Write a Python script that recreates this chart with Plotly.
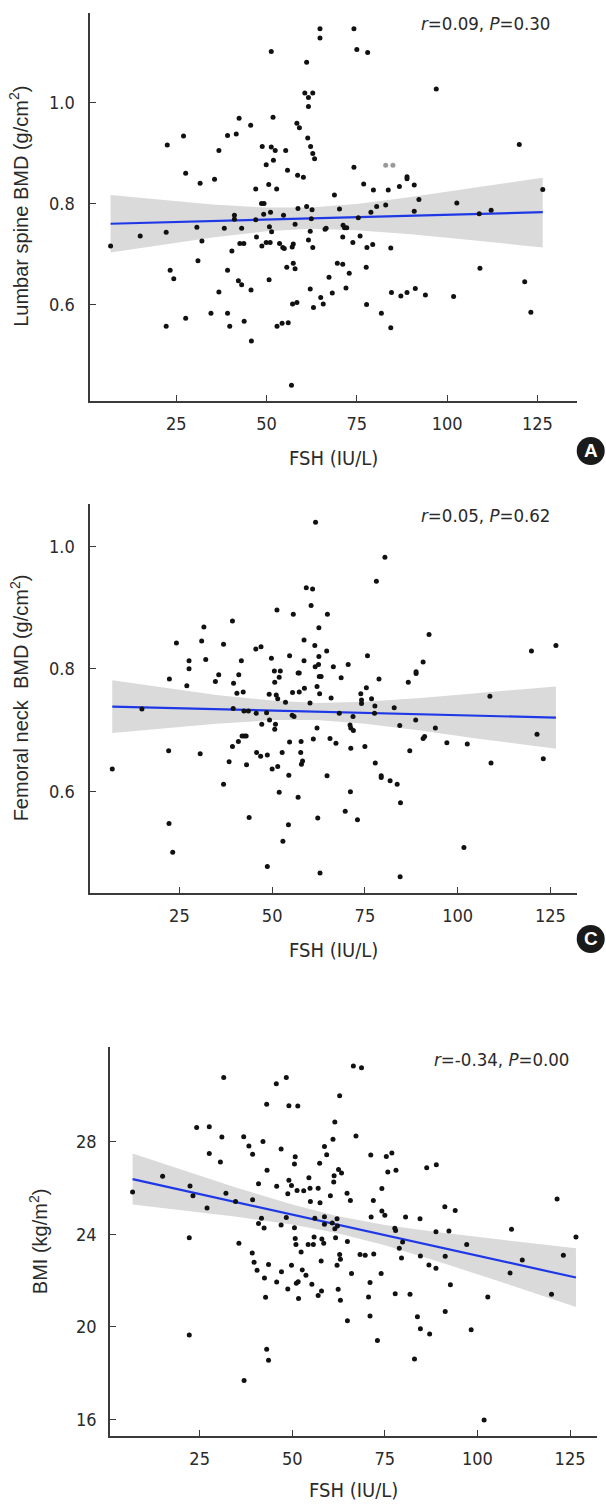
import plotly.graph_objects as go

# ---------------- data ----------------
# Panel A: Lumbar spine BMD vs FSH
fsh_a = [6.8, 15.0, 22.2, 22.5, 22.2, 23.3, 24.3, 27.0, 27.6, 27.6, 30.7, 31.0, 31.6, 32.1, 34.6, 35.6, 36.8, 36.8,
         38.3, 39.2, 39.2, 39.2, 39.8, 40.4, 41.1, 41.1, 41.6, 42.4, 42.2, 43.1, 43.1, 42.6, 43.7, 43.8, 45.6, 45.7,
         45.8, 47.0, 47.0, 47.2, 48.8, 48.7, 48.6, 49.3, 49.2, 49.9, 49.9, 50.6, 51.1, 50.8, 51.4, 51.0, 50.7, 51.3,
         51.8, 51.3, 52.4, 51.9, 52.8, 52.9, 53.6, 54.5, 54.9, 54.7, 54.3, 55.3, 55.8, 55.6, 56.0, 57.1, 57.4, 57.9,
         57.4, 57.9, 57.2, 58.4, 56.9, 58.4, 59.1, 58.6, 58.7, 60.2, 60.6, 61.6, 62.8, 61.6, 61.1, 61.4, 62.2, 62.8,
         63.3, 61.1, 62.6, 62.4, 62.1, 61.6, 62.8, 62.1, 63.0, 64.8, 64.8, 65.0, 65.7, 66.2, 66.5, 67.3, 68.2, 68.8,
         69.6, 70.2,
         74.2, 75.0, 78.0, 97.0, 120.0, 74.2, 76.9, 79.6, 83.7, 86.8, 88.9, 88.9, 90.9, 92.2, 75.4, 78.9, 80.5, 83.0,
         90.9, 102.7, 108.9, 112.2, 126.5, 71.2, 71.6, 72.2, 71.1, 73.9, 75.9, 77.8, 79.4, 84.4, 71.1, 72.9, 77.6,
         109.1, 72.0, 77.7, 81.8, 84.6, 87.2, 88.9, 91.2, 94.0, 101.8, 121.5, 123.2, 84.4]
bmd_ls = [0.715, 0.735, 0.742, 0.915, 0.556, 0.667, 0.650, 0.933, 0.859, 0.572, 0.752, 0.686, 0.839, 0.725, 0.582,
          0.847, 0.904, 0.624, 0.750, 0.934, 0.667, 0.582, 0.556, 0.705, 0.776, 0.768, 0.937, 0.968, 0.646, 0.638,
          0.750, 0.720, 0.720, 0.566, 0.954, 0.628, 0.527, 0.828, 0.767, 0.733, 0.912, 0.715, 0.799, 0.799, 0.778,
          0.876, 0.722, 0.837, 0.782, 0.753, 0.743, 0.722, 0.648, 1.100, 0.970, 0.911, 0.904, 0.885, 0.828, 0.556,
          0.720, 0.712, 0.710, 0.776, 0.562, 0.904, 0.865, 0.673, 0.563, 0.713, 0.719, 0.758, 0.681, 0.670, 0.600,
          0.603, 0.439, 0.958, 0.949, 0.855, 0.789, 0.851, 1.018, 1.009, 1.018, 0.991, 1.079, 0.929, 0.912, 0.898,
          0.888, 0.793, 0.787, 0.769, 0.744, 0.727, 0.712, 0.630, 0.593, 1.145, 1.127, 0.613, 0.600, 0.748, 0.750,
          0.653, 0.622, 0.816, 0.681, 0.788,
          1.145, 1.104, 1.098, 1.026, 0.916, 0.871, 0.838, 0.826, 0.826, 0.833, 0.852, 0.848, 0.836, 0.807, 0.771,
          0.782, 0.793, 0.796, 0.784, 0.800, 0.779, 0.786, 0.827, 0.756, 0.751, 0.751, 0.733, 0.722, 0.735, 0.712,
          0.718, 0.711, 0.679, 0.661, 0.673, 0.671, 0.632, 0.599, 0.582, 0.623, 0.616, 0.623, 0.631, 0.618, 0.615,
          0.644, 0.584, 0.553]
fsh_a_gray = [83.0, 85.0]
bmd_ls_gray = [0.875, 0.875]
fit_x_a = [6.8, 126.5]
fit_y_a = [0.759, 0.782]
band_x_a = [6.8, 20, 35, 50, 62, 75, 90, 105, 126.5]
band_hi_a = [0.816, 0.807, 0.797, 0.791, 0.791, 0.798, 0.812, 0.828, 0.850]
band_lo_a = [0.702, 0.716, 0.732, 0.744, 0.749, 0.746, 0.738, 0.728, 0.712]

# Panel C: Femoral neck BMD vs FSH
fsh_c = [6.9, 14.9, 22.3, 22.1, 22.2, 23.2, 24.2, 27.0, 27.6, 27.6, 30.6, 31.0, 31.6, 32.1, 34.7, 35.6, 36.9, 36.9,
         38.4, 39.3, 39.3, 39.6, 40.5, 41.0, 39.5, 40.9, 41.9, 42.5, 43.0, 41.7, 42.2, 42.4, 43.6, 43.1, 43.8, 45.6,
         47.0, 45.7, 45.8, 46.9, 47.2, 48.5, 48.7, 48.7, 49.2, 49.3, 49.8, 50.0, 50.6, 50.7, 51.1, 50.9, 50.7, 51.3,
         51.5, 51.9, 51.9, 52.2, 51.5, 52.7, 52.9, 53.6, 54.4, 54.5, 54.7, 54.7, 55.4, 55.9, 55.5, 55.7, 57.0, 57.3,
         57.3, 57.0, 57.8, 57.7, 57.9, 58.2, 58.6, 58.7, 58.6, 59.2, 60.9, 60.5, 60.2, 61.1, 61.5, 61.6, 62.5, 62.6,
         62.6, 62.7, 63.2, 62.1, 62.8, 62.1, 62.3, 62.9, 64.9, 64.7, 64.8, 65.6, 65.9, 66.5, 67.2, 61.7,
         80.4, 78.1, 92.3, 75.7, 70.5, 68.6, 78.8, 75.4, 73.9, 74.1, 74.1, 76.8, 77.7, 77.6, 68.1, 71.8, 71.0, 71.2,
         71.9, 82.9, 84.4, 88.7, 94.0, 86.7, 88.8, 88.8, 90.7, 108.7, 119.9, 126.5, 121.4, 123.1, 109.0, 102.6, 97.1,
         90.7, 91.1, 87.1, 75.0, 71.2, 77.8, 79.4, 79.4, 81.8, 83.7, 84.6, 71.1, 69.7, 73.0, 101.7, 84.5]
bmd_fn = [0.636, 0.734, 0.783, 0.666, 0.547, 0.500, 0.842, 0.772, 0.813, 0.800, 0.661, 0.845, 0.868, 0.815, 0.779,
          0.790, 0.840, 0.611, 0.648, 0.878, 0.673, 0.776, 0.760, 0.790, 0.735, 0.681, 0.690, 0.690, 0.690, 0.813,
          0.762, 0.731, 0.731, 0.643, 0.557, 0.832, 0.836, 0.727, 0.663, 0.657, 0.709, 0.728, 0.659, 0.477, 0.758,
          0.716, 0.817, 0.636, 0.796, 0.778, 0.757, 0.709, 0.701, 0.896, 0.640, 0.598, 0.786, 0.796, 0.751, 0.663,
          0.518, 0.745, 0.545, 0.626, 0.821, 0.680, 0.724, 0.722, 0.761, 0.889, 0.793, 0.793, 0.762, 0.590, 0.681,
          0.663, 0.644, 0.649, 0.813, 0.768, 0.847, 0.932, 0.930, 0.903, 0.744, 0.685, 0.838, 0.803, 0.807, 0.867,
          0.820, 0.787, 0.787, 0.771, 0.759, 0.703, 0.556, 0.466, 0.889, 0.829, 0.625, 0.686, 0.752, 0.803, 0.678,
          1.039,
          0.982, 0.943, 0.856, 0.821, 0.807, 0.785, 0.783, 0.769, 0.759, 0.749, 0.743, 0.751, 0.739, 0.727, 0.727,
          0.722, 0.708, 0.703, 0.699, 0.736, 0.707, 0.716, 0.703, 0.778, 0.795, 0.792, 0.811, 0.755, 0.829, 0.838,
          0.693, 0.653, 0.646, 0.677, 0.679, 0.686, 0.689, 0.666, 0.673, 0.670, 0.646, 0.625, 0.622, 0.617, 0.611,
          0.581, 0.599, 0.567, 0.553, 0.508, 0.460]
fit_x_c = [6.9, 126.5]
fit_y_c = [0.738, 0.720]
band_x_c = [6.9, 20, 35, 50, 62, 75, 90, 105, 126.5]
band_hi_c = [0.781, 0.770, 0.757, 0.748, 0.744, 0.746, 0.752, 0.760, 0.771]
band_lo_c = [0.695, 0.702, 0.710, 0.716, 0.716, 0.710, 0.699, 0.686, 0.669]

# Panel (bottom): BMI vs FSH
fsh_b = [6.9, 15.0, 22.4, 22.2, 22.2, 23.2, 24.2, 27.0, 27.6, 27.6, 30.6, 31.0, 31.5, 32.1, 34.7, 35.6, 36.9, 37.0,
         38.3, 39.3, 39.3, 39.2, 39.7, 40.5, 40.9, 40.9, 41.7, 42.4, 42.1, 42.5, 42.8, 43.1, 43.2, 43.1, 43.6, 43.6,
         45.7, 45.8, 45.8, 47.0, 47.0, 47.1, 48.4, 48.4, 48.8, 48.8, 49.1, 49.1, 49.8, 49.8, 50.6, 50.8, 50.6, 50.8,
         51.0, 51.1, 51.6, 51.7, 51.3, 51.5, 52.4, 52.7, 53.1, 53.7, 54.3, 54.5, 54.8, 54.9, 55.3, 55.7, 55.9, 56.1,
         57.0, 57.4, 57.5, 57.0, 57.9, 57.8, 58.0, 58.5, 58.7, 59.3, 58.7, 58.7, 60.3, 61.0, 61.5, 61.3, 61.2, 60.8,
         61.5, 62.1, 61.7, 62.2, 62.1, 62.4, 62.5, 63.3, 62.8, 62.8, 63.0, 63.0, 64.9, 64.8, 65.7, 64.9, 66.0, 66.5,
         67.2,
         68.7, 71.2, 75.4, 76.9, 75.8, 78.0, 86.3, 88.9, 74.2, 71.9, 74.2, 75.0, 71.3, 80.6, 84.5, 91.2, 94.0, 77.7,
         77.9, 88.8, 92.3, 109.2, 121.5, 126.6, 97.1, 79.8, 78.9, 79.5, 68.3, 69.7, 72.0, 84.6, 91.3, 112.1, 123.2,
         86.9, 88.8, 74.0, 108.8, 71.0, 92.7, 70.6, 77.8, 81.8, 102.8, 120.0, 71.0, 91.3, 83.8, 84.6, 87.1, 98.3,
         73.0, 83.0, 101.8]
bmi = [25.81, 26.49, 26.07, 23.84, 19.64, 25.65, 28.60, 25.12, 28.63, 27.47, 27.11, 28.19, 30.76, 25.76, 25.40,
       23.60, 28.20, 17.68, 27.80, 27.44, 25.48, 23.18, 22.78, 22.43, 26.17, 24.45, 24.68, 24.26, 27.99, 22.10, 21.27,
       29.60, 26.75, 19.02, 22.68, 18.55, 30.49, 26.06, 21.93, 27.67, 24.39, 22.37, 30.76, 24.71, 25.74, 21.63, 29.54,
       26.32, 26.09, 22.65, 27.02, 27.34, 24.27, 23.81, 23.55, 21.87, 21.94, 21.22, 25.88, 29.53, 23.22, 22.45, 25.87,
       22.22, 23.55, 26.43, 25.97, 25.40, 21.83, 23.55, 23.87, 24.68, 25.97, 27.05, 25.35, 21.34, 21.54, 22.83, 23.78,
       23.60, 27.78, 27.42, 24.75, 24.42, 25.65, 28.09, 28.83, 26.52, 26.24, 24.47, 24.23, 24.66, 23.84, 24.35, 22.65,
       21.61, 26.78, 26.63, 29.97, 23.11, 22.91, 21.14, 20.26, 25.76, 25.45, 23.68, 22.29, 31.25, 28.23,
       31.18, 27.41, 27.35, 27.50, 26.68, 26.75, 26.86, 26.99, 25.96, 25.45, 24.99, 24.81, 24.73, 24.73, 24.66, 25.18,
       25.01, 24.25, 24.15, 24.10, 24.13, 24.20, 25.51, 23.87, 23.55, 23.65, 23.38, 22.96, 23.12, 23.08, 23.14, 23.05,
       23.04, 22.88, 23.08, 22.66, 22.52, 22.30, 22.32, 21.91, 21.81, 21.28, 21.42, 21.40, 21.28, 21.40, 20.46, 20.66,
       20.43, 19.91, 19.68, 19.87, 19.40, 18.60, 15.97]
fit_x_b = [6.9, 126.6]
fit_y_b = [26.37, 22.12]
band_x_b = [6.9, 20, 35, 50, 62, 75, 90, 105, 126.6]
band_hi_b = [27.47, 26.78, 26.00, 25.27, 24.78, 24.39, 24.06, 23.78, 23.39]
band_lo_b = [25.27, 25.03, 24.74, 24.41, 24.04, 23.51, 22.78, 22.00, 20.85]

x_ticks = [25, 50, 75, 100, 125]
y_ticks_a = [0.6, 0.8, 1.0]
y_ticks_c = [0.6, 0.8, 1.0]
y_ticks_b = [16, 20, 24, 28]
stats = ["<i>r</i>=0.09, <i>P</i>=0.30", "<i>r</i>=0.05, <i>P</i>=0.62", "<i>r</i>=-0.34, <i>P</i>=0.00"]
ytitles = ["Lumbar spine BMD (g/cm<sup>2</sup>)", "Femoral neck\u00a0 BMD (g/cm<sup>2</sup>)", "BMI (kg/m<sup>2</sup>)"]
xtitle = "FSH (IU/L)"
badges = ["A", "C"]

# ---------------- layout geometry (pixels) ----------------
W, H = 606, 1509
NARROW = "DejaVu Sans Condensed, Liberation Sans Narrow, sans-serif"
REG = "Liberation Sans, Arial, sans-serif"
AX = "#3a3a3a"
TXT = "#2a2a2a"
LINE = "#1f38e6"
BAND = "#dadada"


def fx(px):
    return px / W


def fy(py):
    return 1 - py / H


panels = [
    dict(x=fsh_a, y=bmd_ls, fx_=fit_x_a, fy_=fit_y_a, bx=band_x_a, bh=band_hi_a, bl=band_lo_a,
         xdom=(90, 576.7), ydom=(12.7, 401), xr=[1.1, 135.9], yr=[0.408, 1.177], yt=y_ticks_a,
         yfmt="{:.1f}", ylab_x=77, ytitle_x=19, xtitle_y=458, stat_y=24, stat_x=552),
    dict(x=fsh_c, y=bmd_fn, fx_=fit_x_c, fy_=fit_y_c, bx=band_x_c, bh=band_hi_c, bl=band_lo_c,
         xdom=(90, 576.7), ydom=(504, 892.7), xr=[0.9, 132.1], yr=[0.434, 1.069], yt=y_ticks_c,
         yfmt="{:.1f}", ylab_x=77, ytitle_x=19, xtitle_y=950, stat_y=516, stat_x=552),
    dict(x=fsh_b, y=bmi, fx_=fit_x_b, fy_=fit_y_b, bx=band_x_b, bh=band_hi_b, bl=band_lo_b,
         xdom=(110, 596.7), ydom=(1047.3, 1436), xr=[0.8, 132.2], yr=[15.28, 32.06], yt=y_ticks_b,
         yfmt="{:d}", ylab_x=98.5, ytitle_x=38.5, xtitle_y=1490, stat_y=1059, stat_x=571),
]

fig = go.Figure()
annotations = []
shapes = []

for i, p in enumerate(panels):
    k = "" if i == 0 else str(i + 1)
    xa, ya = "x" + k, "y" + k
    # confidence band
    fig.add_trace(go.Scatter(x=p["bx"], y=p["bh"], mode="lines", line=dict(width=0, color=BAND),
                             xaxis=xa, yaxis=ya, showlegend=False, hoverinfo="skip"))
    fig.add_trace(go.Scatter(x=p["bx"], y=p["bl"], mode="lines", line=dict(width=0, color=BAND),
                             fill="tonexty", fillcolor=BAND, xaxis=xa, yaxis=ya, showlegend=False,
                             hoverinfo="skip"))
    # fit line
    fig.add_trace(go.Scatter(x=p["fx_"], y=p["fy_"], mode="lines", line=dict(width=2.2, color=LINE),
                             xaxis=xa, yaxis=ya, showlegend=False))
    # points
    fig.add_trace(go.Scatter(x=p["x"], y=p["y"], mode="markers",
                             marker=dict(size=5, color="#111111", line=dict(width=0)),
                             xaxis=xa, yaxis=ya, showlegend=False))
    if i == 0:
        fig.add_trace(go.Scatter(x=fsh_a_gray, y=bmd_ls_gray, mode="markers",
                                 marker=dict(size=5, color="#9a9a9a", line=dict(width=0)),
                                 xaxis=xa, yaxis=ya, showlegend=False))

    xd = [fx(p["xdom"][0]), fx(p["xdom"][1])]
    yd = [fy(p["ydom"][1]), fy(p["ydom"][0])]
    common = dict(showline=True, linecolor=AX, linewidth=1.5, mirror=False, showgrid=False,
                  zeroline=False, ticks="inside", ticklen=6, tickwidth=1.2, tickcolor=AX,
                  tickfont=dict(family=NARROW, size=18, color=TXT))
    fig.layout["xaxis" + k] = dict(domain=xd, range=p["xr"], tickmode="array", tickvals=x_ticks,
                                   anchor=ya, ticklabelstandoff=6, **common)
    fig.layout["yaxis" + k] = dict(domain=yd, range=p["yr"], tickmode="array", tickvals=p["yt"],
                                   showticklabels=False, anchor=xa, **common)
    # y tick labels placed at the axis' own tick values
    for v in p["yt"]:
        annotations.append(dict(text=p["yfmt"].format(v), x=fx(p["ylab_x"]), y=v, xref="paper", yref=ya,
                                xanchor="right", yanchor="middle", showarrow=False,
                                font=dict(family=NARROW, size=18, color=TXT)))

    xc = (p["xdom"][0] + p["xdom"][1]) / 2
    yc = (p["ydom"][0] + p["ydom"][1]) / 2
    annotations.append(dict(text=xtitle, x=fx(xc), y=fy(p["xtitle_y"]), xref="paper", yref="paper",
                            xanchor="center", yanchor="middle", showarrow=False,
                            font=dict(family=NARROW, size=20, color=TXT)))
    annotations.append(dict(text=ytitles[i], x=fx(p["ytitle_x"]), y=fy(yc), xref="paper", yref="paper",
                            xanchor="center", yanchor="middle", textangle=-90, showarrow=False,
                            font=dict(family=REG, size=20, color=TXT)))
    annotations.append(dict(text=stats[i], x=fx(p["stat_x"]), y=fy(p["stat_y"]), xref="paper", yref="paper",
                            xanchor="right", yanchor="middle", showarrow=False,
                            font=dict(family=NARROW, size=18.5, color=TXT)))

# badges
for lab, cy in zip(badges, [451, 939]):
    cx, r = 590.7, 14
    shapes.append(dict(type="circle", xref="paper", yref="paper", x0=fx(cx - r), x1=fx(cx + r),
                       y0=fy(cy + r), y1=fy(cy - r), fillcolor="#1a1a1a", line=dict(width=0)))
    annotations.append(dict(text="<b>%s</b>" % lab, x=fx(cx), y=fy(cy), xref="paper", yref="paper",
                            xanchor="center", yanchor="middle", showarrow=False,
                            font=dict(family=REG, size=19, color="white")))

fig.update_layout(width=W, height=H, margin=dict(l=0, r=0, t=0, b=0), paper_bgcolor="white",
                  plot_bgcolor="white", annotations=annotations, shapes=shapes, showlegend=False)

fig.write_html("out.html", config={"displayModeBar": False},
               post_script="document.body.style.margin='0';")
